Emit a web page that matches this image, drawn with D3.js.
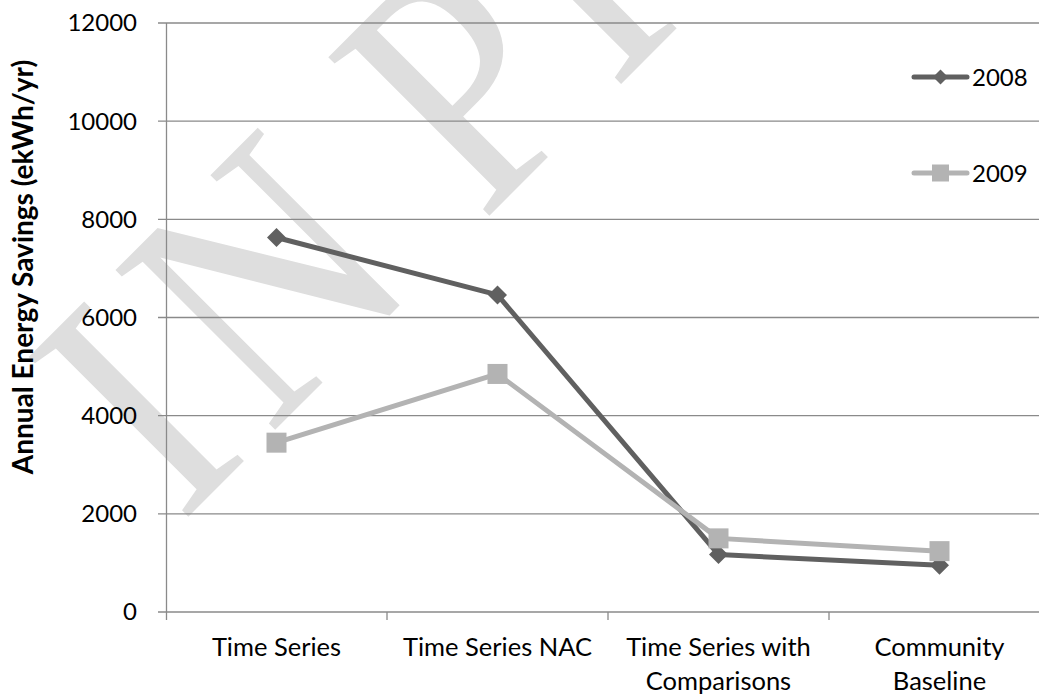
<!DOCTYPE html>
<html>
<head>
<meta charset="utf-8">
<script src="https://cdn.jsdelivr.net/npm/d3@7"></script>
<style>
  html, body { margin: 0; padding: 0; background: #fff; }
  svg { display: block; }
</style>
</head>
<body>
<svg id="chart" width="1039" height="700"></svg>
<script>
const categories = ["Time Series", "Time Series NAC", "Time Series with Comparisons", "Community Baseline"];
const categoryLines = [["Time Series"], ["Time Series NAC"], ["Time Series with", "Comparisons"], ["Community", "Baseline"]];
const series2008 = [7630, 6460, 1170, 950];
const series2009 = [3450, 4850, 1500, 1240];
const seriesNames = ["2008", "2009"];
const yTicks = [0, 2000, 4000, 6000, 8000, 10000, 12000];
const yLabel = "Annual Energy Savings (ekWh/yr)";
const watermarkLetters = ["I", "N", "P", "I"];
const watermarkOffsets = [-243, -118, 183, 369];

const svg = d3.select("#chart");
const font = "Lato, 'Open Sans', sans-serif";
const dark = "#606060", light = "#b3b3b3", grid = "#8a8a8a";

const x = d3.scaleBand().domain(categories).range([166, 1050]);
const y = d3.scaleLinear().domain([0, 12000]).range([612, 23]);

// watermark (filled serif letters along a rotated baseline)
const sx = 0.87;
const wm = svg.append("g")
  .attr("transform", `translate(352.5,352.5) rotate(-45) scale(${sx},1)`);
wm.selectAll("text").data(watermarkLetters).join("text")
  .attr("x", (d, i) => watermarkOffsets[i] / sx).attr("y", 0)
  .attr("font-family", "'Liberation Serif', 'Times New Roman', serif")
  .attr("font-size", 345)
  .attr("fill", "#dedede")
  .text(d => d);

// gridlines
svg.append("g").selectAll("line").data(yTicks).join("line")
  .attr("x1", 158).attr("x2", 1050)
  .attr("y1", d => y(d)).attr("y2", d => y(d))
  .attr("stroke", grid).attr("stroke-width", 1.3);

// y axis line
svg.append("line").attr("x1", 166.5).attr("x2", 166.5).attr("y1", y(12000)).attr("y2", 620)
  .attr("stroke", grid).attr("stroke-width", 1.3);

// category ticks
const bounds = categories.map(c => x(c));
svg.append("g").selectAll("line").data(bounds.slice(1)).join("line")
  .attr("x1", d => d).attr("x2", d => d).attr("y1", y(0)).attr("y2", 620)
  .attr("stroke", grid).attr("stroke-width", 1.3);

// y tick labels
svg.append("g").selectAll("text").data(yTicks).join("text")
  .attr("x", 137).attr("y", d => y(d)).attr("dy", "0.35em")
  .attr("text-anchor", "end").attr("font-family", font).attr("font-size", 24)
  .attr("fill", "#000").text(d => d);

// y label
svg.append("text")
  .attr("transform", `translate(33,${(65 + 469) / 2}) rotate(-90)`)
  .attr("text-anchor", "middle").attr("font-family", font).attr("font-weight", "bold")
  .attr("font-size", 28).attr("fill", "#000").text(yLabel);

// category labels
categories.forEach((c, i) => {
  const t = svg.append("text").attr("text-anchor", "middle")
    .attr("font-family", font).attr("font-size", 25.5).attr("fill", "#000");
  categoryLines[i].forEach((ln, j) => {
    t.append("tspan").attr("x", x(c) + x.bandwidth() / 2).attr("y", 656 + j * 34).text(ln);
  });
});

const cx = c => x(c) + x.bandwidth() / 2;
const line = d3.line().x(d => cx(d.c)).y(d => y(d.v));
const data2008 = categories.map((c, i) => ({ c, v: series2008[i] }));
const data2009 = categories.map((c, i) => ({ c, v: series2009[i] }));

svg.append("path").datum(data2008).attr("d", line).attr("fill", "none")
  .attr("stroke", dark).attr("stroke-width", 5).attr("stroke-linejoin", "round");
svg.append("path").datum(data2009).attr("d", line).attr("fill", "none")
  .attr("stroke", light).attr("stroke-width", 5).attr("stroke-linejoin", "round");

const diamond = (cxp, cyp, r) => `M${cxp},${cyp - r}L${cxp + r},${cyp}L${cxp},${cyp + r}L${cxp - r},${cyp}Z`;

svg.append("g").selectAll("path").data(data2008).join("path")
  .attr("d", d => diamond(cx(d.c), y(d.v), 9.5)).attr("fill", dark);
svg.append("g").selectAll("rect").data(data2009).join("rect")
  .attr("x", d => cx(d.c) - 10).attr("y", d => y(d.v) - 10)
  .attr("width", 20).attr("height", 20).attr("fill", light);

// legend
const legend = [
  { name: seriesNames[0], color: dark, ly: 77, ty: 86, shape: "diamond" },
  { name: seriesNames[1], color: light, ly: 173, ty: 182, shape: "square" }
];
legend.forEach(l => {
  svg.append("line").attr("x1", 914).attr("x2", 967).attr("y1", l.ly).attr("y2", l.ly)
    .attr("stroke", l.color).attr("stroke-width", 5).attr("stroke-linecap", "round");
  if (l.shape === "diamond") {
    svg.append("path").attr("d", diamond(940.5, l.ly, 7.5)).attr("fill", l.color);
  } else {
    svg.append("rect").attr("x", 932).attr("y", l.ly - 8.5).attr("width", 17).attr("height", 17).attr("fill", l.color);
  }
  svg.append("text").attr("x", 972).attr("y", l.ty).attr("font-family", font)
    .attr("font-size", 24).attr("fill", "#000").text(l.name);
});
</script>
</body>
</html>
